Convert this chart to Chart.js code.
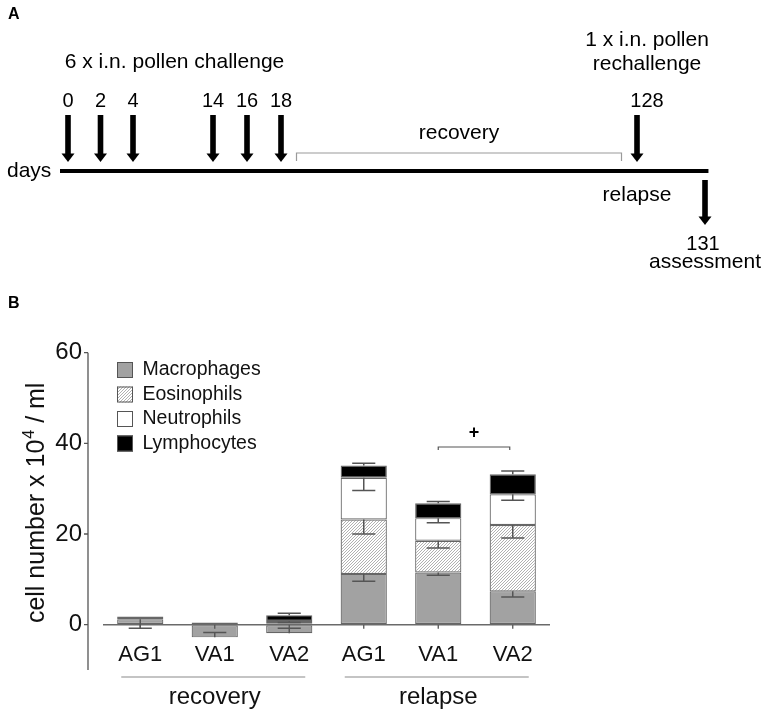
<!DOCTYPE html>
<html>
<head>
<meta charset="utf-8">
<script src="https://cdn.jsdelivr.net/npm/chart.js@4.4.1/dist/chart.umd.min.js"></script>
<style>
  body { margin: 0; background: #fff; }
  #wrap { position: relative; width: 765px; height: 713px; }
  canvas { position: absolute; left: 0; }
  #timeline { top: 0; }
  #cells { top: 285px; }
</style>
</head>
<body>
<div id="wrap">
  <canvas id="timeline" width="765" height="285"></canvas>
  <canvas id="cells" width="765" height="428"></canvas>
</div>
<script>
const FONT = '"Liberation Sans", Arial, sans-serif';

// panel A - protocol
const challengeDays = [0, 2, 4, 14, 16, 18];
const rechallengeDays = [128];
const assessmentDays = [131];
const timelineSpan = [-0.5, 131.15];

// panel B - BAL cells (x 10^4 / ml)
const groups = ["AG1", "VA1", "VA2", "AG1", "VA1", "VA2"];
const phaseNames = ["recovery", "relapse"];
const phaseSizes = [3, 3];
const cellTypes = ["Macrophages", "Eosinophils", "Neutrophils", "Lymphocytes"];
const macrophages = [1.2, -2.8, -1.9, 11.2, 11.5, 7.35];
const eosinophils = [0, 0, 0.3, 12.0, 7.0, 14.65];
const neutrophils = [0, 0, 0.5, 9.2, 5.0, 6.75];
const lymphocytes = [0.6, 0.5, 1.3, 2.7, 3.3, 4.45];
const macrophageErr = [2.0, 1.05, 1.1, 1.6, 0.6, 1.25];
const eosinophilErr = [0, 0, 0, 3.2, 1.6, 2.9];
const neutrophilErr = [0, 0, 0.3, 2.8, 1.0, 1.3];
const lymphocyteErr = [0, 0, 0.4, 0.5, 0.4, 0.7];
const yTicks = [0, 20, 40, 60];
const sigPair = [4, 5];
const sigLevel = 39.2;

const seriesValues = [macrophages, eosinophils, neutrophils, lymphocytes];
const seriesErrors = [macrophageErr, eosinophilErr, neutrophilErr, lymphocyteErr];

// the day axis is a schematic, not to scale: [day, px at 765 wide]
const dayKnots = [[-1, 52], [0, 68], [4, 133], [14, 213], [18, 281], [128, 637], [131, 705], [132, 728]];

class ScheduleScale extends Chart.LinearScale {
  getPixelForValue(value) {
    let i = 1;
    while (i < dayKnots.length - 1 && value > dayKnots[i][0]) i++;
    const [d0, p0] = dayKnots[i - 1];
    const [d1, p1] = dayKnots[i];
    const p = p0 + ((value - d0) * (p1 - p0)) / (d1 - d0);
    return this.left + (p / 765) * this.width;
  }
}
ScheduleScale.id = "schedule";
ScheduleScale.defaults = Chart.LinearScale.defaults;
Chart.register(ScheduleScale);

function text(ctx, str, x, y, font, align) {
  ctx.font = font;
  ctx.textAlign = align || "center";
  ctx.textBaseline = "middle";
  ctx.fillText(str, x, y);
}

function downArrow(ctx, x, top, tip) {
  ctx.fillRect(x - 2.8, top, 5.6, tip - 8 - top);
  ctx.beginPath();
  ctx.moveTo(x - 6.5, tip - 8.5);
  ctx.lineTo(x + 6.5, tip - 8.5);
  ctx.lineTo(x, tip);
  ctx.closePath();
  ctx.fill();
}

const timelinePlugin = {
  id: "timelineMarks",
  afterDatasetsDraw(chart) {
    const ctx = chart.ctx;
    const xs = chart.scales.x;
    const base = chart.scales.y.getPixelForValue(0);
    const pts = (i) => chart.getDatasetMeta(i).data.map((p) => p.x);
    const f21 = `21px ${FONT}`;
    ctx.save();
    ctx.fillStyle = "#000";

    text(ctx, "A", 8, 15, `bold 16px ${FONT}`, "left");
    text(ctx, "days", 7, base, f21, "left");

    const ch = pts(1);
    ch.forEach((x, i) => {
      downArrow(ctx, x, base - 56, base - 9);
      text(ctx, String(challengeDays[i]), x, base - 70, `20px ${FONT}`);
    });
    text(ctx, "6 x i.n. pollen challenge", (ch[0] + ch[ch.length - 1]) / 2, base - 109, f21);

    pts(2).forEach((x, i) => {
      downArrow(ctx, x, base - 56, base - 9);
      text(ctx, String(rechallengeDays[i]), x + 10, base - 70, `20px ${FONT}`);
      text(ctx, "1 x i.n. pollen", x + 10, base - 131, f21);
      text(ctx, "rechallenge", x + 10, base - 107, f21);
      text(ctx, "relapse", x, base + 24, f21);
    });

    pts(3).forEach((x, i) => {
      downArrow(ctx, x, base + 9, base + 54);
      text(ctx, String(assessmentDays[i]), x - 2, base + 73, `20px ${FONT}`);
      text(ctx, "assessment", x, base + 91, f21);
    });

    // recovery bracket between last challenge and rechallenge
    const bx0 = xs.getPixelForValue(challengeDays[challengeDays.length - 1]) + 15;
    const bx1 = xs.getPixelForValue(rechallengeDays[0]) - 15;
    ctx.strokeStyle = "#9a9a9a";
    ctx.lineWidth = 1.2;
    ctx.beginPath();
    ctx.moveTo(bx0 + 0.5, base - 10);
    ctx.lineTo(bx0 + 0.5, base - 18);
    ctx.lineTo(bx1 - 0.5, base - 18);
    ctx.lineTo(bx1 - 0.5, base - 10);
    ctx.stroke();
    text(ctx, "recovery", (bx0 + bx1) / 2, base - 38, f21);
    ctx.restore();
  },
};

new Chart(document.getElementById("timeline"), {
  type: "scatter",
  data: {
    datasets: [
      {
        type: "line",
        label: "days",
        data: timelineSpan.map((d) => ({ x: d, y: 0 })),
        borderColor: "#000",
        borderWidth: 4,
        pointRadius: 0,
      },
      { label: "challenge", data: challengeDays.map((d) => ({ x: d, y: 0 })), pointRadius: 0 },
      { label: "rechallenge", data: rechallengeDays.map((d) => ({ x: d, y: 0 })), pointRadius: 0 },
      { label: "assessment", data: assessmentDays.map((d) => ({ x: d, y: 0 })), pointRadius: 0 },
    ],
  },
  options: {
    responsive: false,
    animation: false,
    events: [],
    layout: { padding: 0 },
    plugins: { legend: { display: false }, tooltip: { enabled: false } },
    scales: {
      x: { type: "schedule", display: false, min: -1, max: 132 },
      y: { display: false, min: -114, max: 171 },
    },
  },
  plugins: [timelinePlugin],
});

// hatch for eosinophils
function makeHatch() {
  const c = document.createElement("canvas");
  const s = 3;
  c.width = s;
  c.height = s;
  const g = c.getContext("2d");
  g.fillStyle = "#fff";
  g.fillRect(0, 0, s, s);
  g.strokeStyle = "#a8a8a8";
  g.lineWidth = 0.9;
  g.beginPath();
  g.moveTo(0, s);
  g.lineTo(s, 0);
  g.moveTo(-1, 1);
  g.lineTo(1, -1);
  g.moveTo(s - 1, s + 1);
  g.lineTo(s + 1, s - 1);
  g.stroke();
  return g.createPattern(c, "repeat");
}
const hatch = makeHatch();
const fills = ["#a2a2a2", hatch, "#ffffff", "#000000"];

const cellsPlugin = {
  id: "cellsMarks",
  afterDatasetsDraw(chart) {
    const ctx = chart.ctx;
    const ys = chart.scales.y;
    const area = chart.chartArea;
    const zero = ys.getPixelForValue(0);
    const centers = chart.getDatasetMeta(0).data.map((b) => b.x);
    ctx.save();

    // error bars (inner segments drawn into the segment, top one outward)
    ctx.strokeStyle = "#555";
    ctx.lineWidth = 1.5;
    seriesErrors.forEach((errs, i) => {
      const meta = chart.getDatasetMeta(i);
      errs.forEach((e, j) => {
        const v = seriesValues[i][j];
        if (!e || !v) return;
        const bar = meta.data[j];
        const isTop = v > 0 && !seriesValues.slice(i + 1).some((s) => s[j] > 0);
        const len = Math.abs(ys.getPixelForValue(e) - zero);
        const up = v < 0 || isTop;
        const yCap = up ? bar.y - len : bar.y + len;
        const half = bar.width / 4;
        ctx.beginPath();
        ctx.moveTo(bar.x, bar.y);
        ctx.lineTo(bar.x, yCap);
        ctx.moveTo(bar.x - half, yCap);
        ctx.lineTo(bar.x + half, yCap);
        ctx.stroke();
      });
    });

    // y axis, offset from the plot
    const axX = area.left - 15;
    ctx.strokeStyle = "#555";
    ctx.lineWidth = 1.3;
    ctx.beginPath();
    ctx.moveTo(axX, ys.getPixelForValue(yTicks[yTicks.length - 1]));
    ctx.lineTo(axX, area.bottom);
    yTicks.forEach((t) => {
      const py = ys.getPixelForValue(t);
      ctx.moveTo(axX - 4, py);
      ctx.lineTo(axX, py);
    });
    centers.forEach((x) => {
      ctx.moveTo(x, zero);
      ctx.lineTo(x, zero + 4);
    });
    ctx.stroke();

    ctx.fillStyle = "#111";
    centers.forEach((x, i) => text(ctx, groups[i], x, area.bottom - 15, `22px ${FONT}`));

    // phase brackets under the groups
    let start = 0;
    ctx.strokeStyle = "#8a8a8a";
    ctx.lineWidth = 1.2;
    phaseNames.forEach((name, k) => {
      const x0 = centers[start] - 19;
      const x1 = centers[start + phaseSizes[k] - 1] + 16;
      ctx.beginPath();
      ctx.moveTo(x0, area.bottom + 7);
      ctx.lineTo(x1, area.bottom + 7);
      ctx.stroke();
      text(ctx, name, (centers[start] + centers[start + phaseSizes[k] - 1]) / 2, area.bottom + 27, `24px ${FONT}`);
      start += phaseSizes[k];
    });

    // significance bracket
    const sy = ys.getPixelForValue(sigLevel);
    const sx0 = centers[sigPair[0]];
    const sx1 = centers[sigPair[1]] - 3;
    ctx.strokeStyle = "#555";
    ctx.lineWidth = 1.2;
    ctx.beginPath();
    ctx.moveTo(sx0, sy + 3);
    ctx.lineTo(sx0, sy);
    ctx.lineTo(sx1, sy);
    ctx.lineTo(sx1, sy + 3);
    ctx.stroke();
    ctx.fillStyle = "#000";
    text(ctx, "+", (sx0 + sx1) / 2, sy - 14, `bold 18px ${FONT}`);

    // legend
    chart.data.datasets.forEach((ds, i) => {
      const cy = area.top + 17.3 + i * 24.5;
      const bx = area.left + 14;
      ctx.fillStyle = ds.backgroundColor;
      ctx.fillRect(bx, cy - 8, 16, 16);
      ctx.strokeStyle = "#555";
      ctx.lineWidth = 1;
      ctx.strokeRect(bx + 0.5, cy - 7.5, 15, 15);
      ctx.fillStyle = "#111";
      text(ctx, ds.label, area.left + 39.5, cy, `19.5px ${FONT}`, "left");
    });

    // rotated axis title with superscript
    ctx.translate(44, (area.top + area.bottom) / 2 - 8);
    ctx.rotate(-Math.PI / 2);
    ctx.textBaseline = "alphabetic";
    ctx.textAlign = "left";
    const big = `25px ${FONT}`;
    const small = `16px ${FONT}`;
    ctx.font = big;
    const a = "cell number x 10";
    const b = " / ml";
    const wa = ctx.measureText(a).width;
    const wb = ctx.measureText(b).width;
    ctx.font = small;
    const ws = ctx.measureText("4").width;
    let x = -(wa + ws + wb) / 2;
    ctx.font = big;
    ctx.fillText(a, x, 0);
    ctx.font = small;
    ctx.fillText("4", x + wa + 1, -10);
    ctx.font = big;
    ctx.fillText(b, x + wa + ws + 1, 0);
    ctx.restore();

    ctx.save();
    ctx.fillStyle = "#000";
    text(ctx, "B", 8, 19, `bold 16px ${FONT}`, "left");
    ctx.restore();
  },
};

new Chart(document.getElementById("cells"), {
  type: "bar",
  data: {
    labels: groups,
    datasets: cellTypes.map((name, i) => ({
      label: name,
      data: seriesValues[i],
      backgroundColor: fills[i],
    })),
  },
  options: {
    responsive: false,
    animation: false,
    events: [],
    layout: { padding: { top: 67.7, bottom: 43, left: 0, right: 215 } },
    datasets: {
      bar: {
        borderColor: "#666",
        borderWidth: 1.2,
        borderSkipped: false,
        categoryPercentage: 1,
        barPercentage: 0.62,
      },
    },
    plugins: { legend: { display: false }, tooltip: { enabled: false } },
    scales: {
      x: { stacked: true, display: false },
      y: {
        stacked: true,
        min: -10,
        max: 60,
        afterFit: (s) => {
          s.width = 103;
        },
        afterBuildTicks: (s) => {
          s.ticks = yTicks.map((v) => ({ value: v }));
        },
        border: { display: false },
        grid: {
          drawTicks: false,
          color: (c) => (c.tick && c.tick.value === 0 ? "#6a6a6a" : "rgba(0,0,0,0)"),
          lineWidth: 1.4,
        },
        ticks: { padding: 21, color: "#111", font: { family: FONT, size: 24 } },
      },
    },
  },
  plugins: [cellsPlugin],
});
</script>
</body>
</html>
